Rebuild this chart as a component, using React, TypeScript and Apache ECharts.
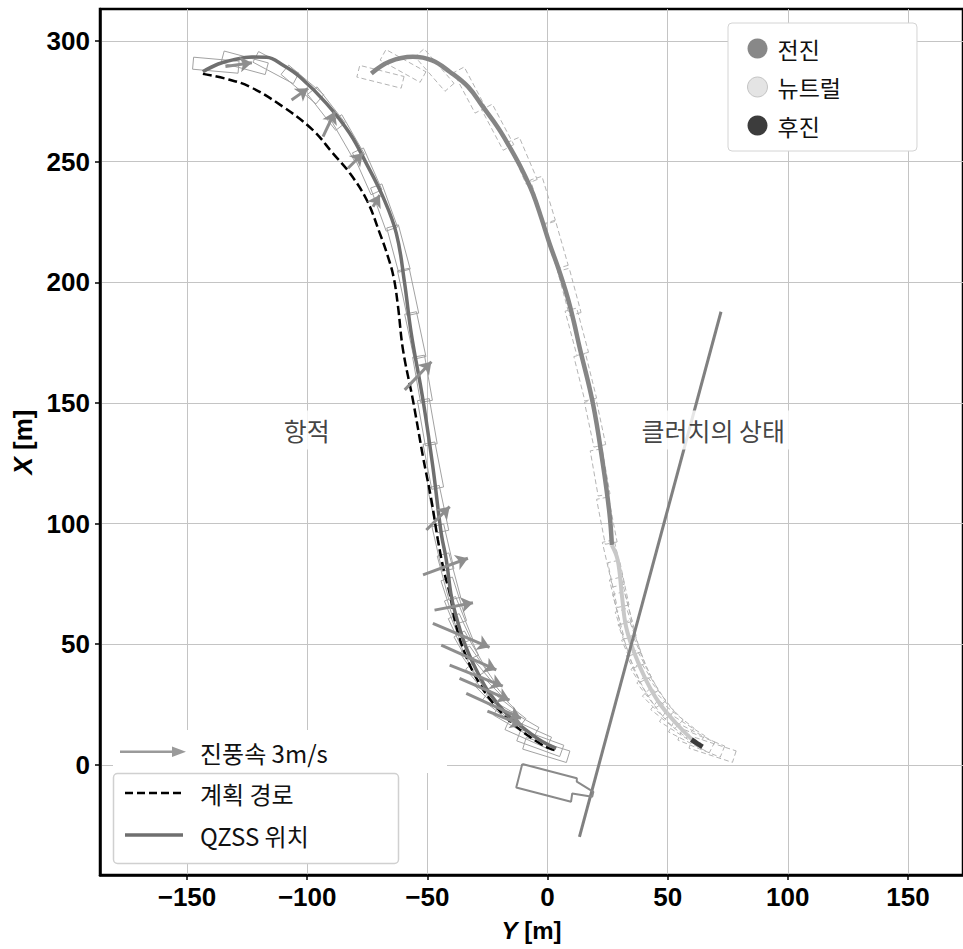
import React, { useEffect, useRef } from "react";
import * as echarts from "echarts";

// ---- data (Y [m], X [m]) ----
const xTicks = [-150, -100, -50, 0, 50, 100, 150];
const yTicks = [0, 50, 100, 150, 200, 250, 300];

const plannedPath = [
  [-143.4, 286.4], [-133.5, 284.3], [-123.9, 281.1], [-110.1, 272.8], [-97.7, 263.2],
  [-89.4, 253.6], [-82.3, 245.3], [-75.2, 234.1], [-69.8, 220.4], [-66.5, 211.0],
  [-64.0, 202.0], [-62.2, 190.0], [-60.1, 171.9], [-56.0, 151.2], [-51.8, 127.7], [-48.3, 109.7],
  [-45.6, 93.2], [-43.0, 80.0], [-40.7, 71.1], [-37.9, 57.2], [-33.8, 44.8],
  [-28.3, 33.7], [-21.3, 24.0], [-13.0, 15.8], [-3.3, 8.9], [0.8, 6.8], [4.0, 5.8],
];

const qzssTrack = [
  [-143.4, 287.3], [-137.0, 290.5], [-130.9, 292.2], [-123.0, 293.4], [-116.9, 293.3],
  [-110.0, 290.0], [-103.1, 285.2], [-92.0, 274.2], [-82.3, 261.8], [-75.4, 249.3],
  [-68.5, 235.5], [-62.9, 220.3], [-59.5, 200.0], [-56.7, 178.9], [-51.8, 151.2],
  [-47.7, 123.5], [-44.2, 95.9], [-42.1, 84.9], [-40.2, 71.0], [-38.7, 64.1],
  [-34.5, 50.3], [-29.6, 39.3], [-24.1, 29.6], [-17.2, 21.3], [-8.9, 14.4],
  [-2.0, 9.5], [3.6, 6.8],
];

const clutchForward = [
  [-73.3, 286.6], [-65.7, 291.5], [-56.0, 293.5], [-48.0, 292.0], [-40.7, 287.3],
  [-33.0, 281.0], [-26.9, 272.8], [-20.5, 264.0], [-15.8, 256.2], [-10.5, 246.5],
  [-6.1, 236.9], [-2.5, 226.5], [0.8, 216.2], [4.8, 205.0], [8.3, 194.0], [11.0, 183.5],
  [13.3, 173.3], [18.9, 149.8], [23.0, 125.0], [25.8, 104.2], [26.8, 91.0],
];
const clutchNeutral = [
  [26.8, 91.0], [29.2, 84.9], [31.0, 70.0], [32.7, 57.2], [36.2, 46.2], [41.0, 35.1],
  [46.6, 25.5], [53.5, 17.2], [60.4, 10.2],
];
const clutchReverse = [[59.9, 10.4], [62.3, 8.8], [64.5, 7.4]];

const pierLine = [[13.3, -29.9], [72.2, 187.8]];

const shipOutline = [
  [-10.5, 0.3], [12.2, -5.6], [12.2, -7.0], [19.1, -11.2], [18.6, -13.3],
  [10.3, -11.9], [9.8, -15.3], [-13.0, -9.4], [-10.5, 0.3],
];

// wind vectors: [startY, startX, endY, endX]
const windArrows = [
  [-134, 289.5, -123, 291.0],
  [-106.5, 275.6, -99.6, 280.4],
  [-93.4, 260.4, -88.5, 270.7],
  [-83.0, 247.3, -76.8, 253.5],
  [-72.6, 231.3, -69.8, 236.2],
  [-59.4, 155.4, -48.3, 167.1],
  [-50.4, 97.3, -40.7, 107.0],
  [-51.8, 78.7, -33.1, 85.6],
  [-47.0, 64.1, -31.0, 67.2],
  [-47.7, 58.6, -24.1, 48.7],
  [-44.2, 49.6, -21.3, 39.3],
  [-40.7, 41.3, -18.6, 32.6],
  [-36.6, 35.8, -15.8, 26.8],
  [-33.8, 29.6, -11.0, 19.2],
  [-25.0, 22.2, -10.4, 16.4],
];

// ship footprints: [Y, X, heading deg]
const footprintsLeft = [
  [-138, 290, -5], [-126, 291, -15], [-113, 289, -28], [-102, 282, -40], [-92, 272, -52],
  [-83, 260, -60], [-75, 246, -66], [-68, 231, -70], [-62, 214, -75], [-58, 196, -78],
  [-55, 178, -78], [-52, 160, -80], [-50, 142, -80], [-47.5, 124, -79], [-45.5, 106, -78],
  [-43.5, 90, -77], [-41, 78, -75], [-39, 68, -72], [-37, 60, -68], [-35, 53, -65],
  [-32, 46, -60], [-29, 40, -55], [-26, 34, -50], [-22, 28, -45], [-18, 23, -38],
  [-13, 18, -30], [-8, 13, -24], [-3, 9, -20], [-0.5, 6.1, -17],
];
const footprintsRight = [
  [-69.5, 285.2, -14], [-60.1, 289.7, -29], [-47, 288, -49], [-32.4, 279.7, -62],
  [-20.7, 264.3, -62], [-10.3, 250.4, -67], [-1.9, 234.1, -73], [3.6, 215.5, -74],
  [9.1, 196, -75], [12.2, 179.5, -75], [15.7, 160.6, -76], [19.8, 141.5, -78],
  [21.9, 121.2, -80], [24.7, 101.2, -79], [27.4, 83.5, -77],
  [29.5, 75, -78], [30.5, 68, -76], [32, 62, -75], [33.5, 55, -72], [35, 50, -70],
  [37, 44, -66], [39.5, 38, -62], [42, 33, -57], [45, 28, -52], [48, 23.5, -45],
  [52, 19, -38], [56, 15, -32], [60, 11.5, -27], [64, 9, -22], [68.7, 6.3, -18],
];
const SHIP_LENGTH = 19;
const SHIP_WIDTH = 5;

const textLabels = [
  { name: "항적", value: [-100.2, 138.8] },
  { name: "클러치의 상태", value: [69.0, 138.8] },
];

const X_MIN = -186.2, X_MAX = 172.9, Y_MIN = -45.7, Y_MAX = 313.3;

const LATIN = "Liberation Sans, Arial, sans-serif";
const KR = "Noto Sans CJK KR, sans-serif";

const fmt = (v: number) => (v < 0 ? "\u2212" + Math.abs(v) : String(v));

function footprintSeries(data: number[][], stroke: string, dash: number[] | null) {
  return {
    type: "custom",
    silent: true,
    z: 1,
    clip: false,
    encode: { x: 0, y: 1 },
    data,
    renderItem: (_p: any, api: any) => {
      const cy = api.value(0), cx = api.value(1);
      const a = (api.value(2) * Math.PI) / 180;
      const ux = Math.cos(a), uy = Math.sin(a);
      const nx = -uy, ny = ux;
      const hl = SHIP_LENGTH / 2, hw = SHIP_WIDTH / 2;
      const pts = [[hl, hw], [hl, -hw], [-hl, -hw], [-hl, hw]].map(([l, w]) =>
        api.coord([cy + l * ux + w * nx, cx + l * uy + w * ny])
      );
      return {
        type: "polygon",
        shape: { points: pts },
        style: { fill: "none", stroke, lineWidth: 1, lineDash: dash || undefined },
      };
    },
  };
}

export default function App() {
  const ref = useRef<HTMLDivElement>(null);
  useEffect(() => {
    if (!ref.current) return;
    const chart = echarts.init(ref.current, null, { renderer: "svg" });
    const textStyleKR = { fontSize: 24, fontFamily: KR, fill: "#111", verticalAlign: "middle", align: "left" };
    const option: any = {
      animation: false,
      backgroundColor: "#fff",
      grid: {
        left: 100, top: 9, width: 864, height: 866,
        show: true, borderColor: "#000", borderWidth: 2.5, backgroundColor: "transparent",
      },
      xAxis: {
        type: "value", min: X_MIN, max: X_MAX,
        name: "{i|Y}{n| [m]}", nameLocation: "middle", nameGap: 43,
        nameTextStyle: {
          rich: {
            i: { fontStyle: "italic", fontWeight: "bold", fontSize: 24, fontFamily: LATIN, color: "#000" },
            n: { fontWeight: "bold", fontSize: 24, fontFamily: LATIN, color: "#000" },
          },
        },
        axisLine: { onZero: false, lineStyle: { color: "#000", width: 2.5 } },
        axisTick: { customValues: xTicks, length: 5, lineStyle: { color: "#000", width: 1.5 } },
        axisLabel: {
          customValues: xTicks, formatter: fmt, margin: 9,
          fontSize: 26, fontWeight: "bold", fontFamily: LATIN, color: "#000",
        },
        splitLine: { show: true, lineStyle: { color: "#c4c4c4", width: 1 } },
      },
      yAxis: {
        type: "value", min: Y_MIN, max: Y_MAX,
        name: "{i|X}{n| [m]}", nameLocation: "middle", nameGap: 60,
        nameTextStyle: {
          rich: {
            i: { fontStyle: "italic", fontWeight: "bold", fontSize: 26, fontFamily: LATIN, color: "#000" },
            n: { fontWeight: "bold", fontSize: 26, fontFamily: LATIN, color: "#000" },
          },
        },
        axisLine: { onZero: false, lineStyle: { color: "#000", width: 2.5 } },
        axisTick: { customValues: yTicks, length: 5, lineStyle: { color: "#000", width: 1.5 } },
        axisLabel: {
          customValues: yTicks, formatter: fmt, margin: 10,
          fontSize: 26, fontWeight: "bold", fontFamily: LATIN, color: "#000",
        },
        splitLine: { show: true, lineStyle: { color: "#c4c4c4", width: 1 } },
      },
      legend: {
        left: 728, top: 23, orient: "vertical", selectedMode: false,
        padding: [14, 76, 14, 19], itemWidth: 30, itemHeight: 20, itemGap: 15.5,
        backgroundColor: "#fff", borderColor: "#d4d4d4", borderWidth: 1, borderRadius: 4,
        textStyle: { fontSize: 23, fontFamily: KR, color: "#111" },
        data: [
          { name: "전진", icon: "circle", itemStyle: { color: "#888888" } },
          { name: "뉴트럴", icon: "circle", itemStyle: { color: "#e4e4e4", borderColor: "#c4c4c4", borderWidth: 1 } },
          { name: "후진", icon: "circle", itemStyle: { color: "#3c3c3c" } },
        ],
      },
      graphic: [
        { type: "rect", shape: { x: 113, y: 730, width: 334, height: 43 }, style: { fill: "#fff" }, z: 50, silent: true },
        { type: "line", shape: { x1: 120, y1: 751.7, x2: 174, y2: 751.7 }, style: { stroke: "#9a9a9a", lineWidth: 2.5 }, z: 51 },
        { type: "polygon", shape: { points: [[172, 746.5], [186, 751.7], [172, 757]] }, style: { fill: "#9a9a9a" }, z: 51 },
        { type: "text", x: 200, y: 752, z: 51, style: { ...textStyleKR, text: "진풍속 3m/s" } },
        {
          type: "rect", shape: { x: 113.5, y: 773.5, width: 285, height: 90, r: 4 },
          style: { fill: "#fff", stroke: "#d0d0d0", lineWidth: 1.5 }, z: 50, silent: true,
        },
        { type: "line", shape: { x1: 125, y1: 793, x2: 183, y2: 793 }, style: { stroke: "#000", lineWidth: 2.5, lineDash: [8, 4] }, z: 51 },
        { type: "text", x: 200, y: 793, z: 51, style: { ...textStyleKR, text: "계획 경로" } },
        { type: "line", shape: { x1: 125, y1: 835, x2: 183, y2: 835 }, style: { stroke: "#6f6f6f", lineWidth: 3.5 }, z: 51 },
        { type: "text", x: 200, y: 835, z: 51, style: { ...textStyleKR, text: "QZSS 위치" } },
      ],
      series: [
        footprintSeries(footprintsLeft, "#a2a2a2", null),
        footprintSeries(footprintsRight, "#b4b4b4", [5, 3]),
        {
          name: "계획 경로", type: "line", data: plannedPath, smooth: 0.4, symbol: "none", showSymbol: false,
          z: 3, color: "#000", lineStyle: { color: "#000", width: 2.5, type: [9, 4] },
        },
        {
          name: "QZSS 위치", type: "line", data: qzssTrack, smooth: 0.4, symbol: "none", showSymbol: false,
          z: 4, color: "#6f6f6f", lineStyle: { color: "#6f6f6f", width: 3.5 },
        },
        {
          name: "전진", type: "line", data: clutchForward, smooth: 0.4, symbol: "none", showSymbol: false,
          z: 4, color: "#888888", lineStyle: { color: "#858585", width: 4.5 },
        },
        {
          name: "뉴트럴", type: "line", data: clutchNeutral, smooth: 0.4, symbol: "none", showSymbol: false,
          z: 4, color: "#e4e4e4", lineStyle: { color: "#c8c8c8", width: 4 },
        },
        {
          name: "후진", type: "line", data: clutchReverse, smooth: 0.4, symbol: "none", showSymbol: false,
          z: 5, color: "#3c3c3c", lineStyle: { color: "#3a3a3a", width: 5 },
        },
        {
          name: "pier", type: "line", data: pierLine, symbol: "none", showSymbol: false,
          z: 4, lineStyle: { color: "#808080", width: 3 },
        },
        {
          name: "ship", type: "line", data: shipOutline, symbol: "none", showSymbol: false,
          z: 4, lineStyle: { color: "#8a8a8a", width: 2 },
        },
        {
          name: "진풍속", type: "lines", coordinateSystem: "cartesian2d", z: 6,
          symbol: ["none", "arrow"], symbolSize: 12,
          lineStyle: { color: "#8e8e8e", width: 3, opacity: 1 },
          data: windArrows.map((a) => ({ coords: [[a[0], a[1]], [a[2], a[3]]] })),
        },
        {
          name: "labels", type: "scatter", z: 10, symbolSize: 1, itemStyle: { color: "rgba(0,0,0,0)" },
          data: textLabels,
          label: {
            show: true, position: "inside", formatter: "{b}",
            fontSize: 25, fontFamily: KR, color: "#111",
            backgroundColor: "#fff", padding: [7, 6],
          },
        },
      ],
    };
    chart.setOption(option);
    return () => chart.dispose();
  }, []);
  return (
    <div
      ref={ref}
      style={{ position: "fixed", left: 0, top: 0, width: 963, height: 949, background: "#fff" }}
    />
  );
}
